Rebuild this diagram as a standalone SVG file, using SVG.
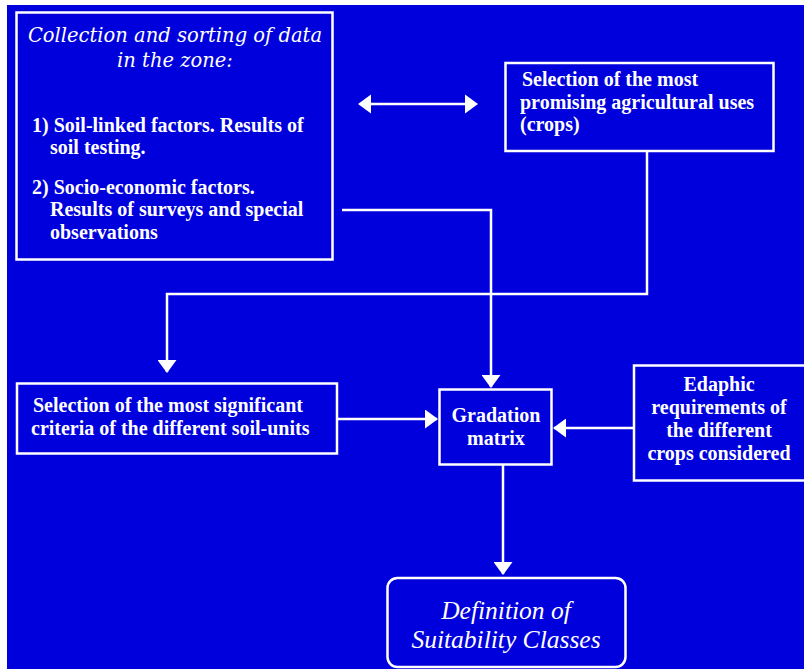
<svg xmlns="http://www.w3.org/2000/svg" width="804" height="669" viewBox="0 0 804 669">
<style>
.box{fill:none;stroke:#fff;stroke-width:2.5}
.ln{fill:none;stroke:#fff;stroke-width:2.5}
.b{font-family:"Liberation Serif","Times New Roman",serif;font-weight:bold;font-size:20px;fill:#fff}
.it{font-family:"DejaVu Serif",serif;font-style:italic;font-size:19.5px;fill:#fff}
.it2{font-family:"Liberation Serif","Times New Roman",serif;font-style:italic;font-size:25.5px;fill:#fff}
.c{text-anchor:middle}
</style>
<defs>
<marker id="ah" markerWidth="13" markerHeight="19" refX="12" refY="9.5" orient="auto" markerUnits="userSpaceOnUse">
<path d="M0,0 L13,9.5 L0,19 Z" fill="#fff"/>
</marker>
</defs>
<rect width="804" height="669" fill="#fff"/>
<rect x="7" y="5" width="797" height="664" fill="#0000DC"/>

<g id="connectors">
<line class="ln" x1="370" y1="104" x2="466" y2="104"/>
<path d="M358,104 L371,94.5 L371,113.5 Z" fill="#fff"/>
<path d="M478,104 L465,94.5 L465,113.5 Z" fill="#fff"/>
<polyline class="ln" points="647,151 647,294 167,294 167,372" marker-end="url(#ah)"/>
<polyline class="ln" points="342,210 491,210 491,387" marker-end="url(#ah)"/>
<line class="ln" x1="338" y1="419" x2="437" y2="419" marker-end="url(#ah)"/>
<line class="ln" x1="633" y1="428" x2="554" y2="428" marker-end="url(#ah)"/>
<line class="ln" x1="503" y1="465" x2="503" y2="574" marker-end="url(#ah)"/>
</g>

<g id="collection">
<rect class="box" x="16.5" y="12.5" width="316" height="247"/>
<text class="it c" x="175" y="42">Collection and sorting of data</text>
<text class="it c" x="175" y="67">in the zone:</text>
<text class="b" x="32" y="132">1) Soil-linked factors. Results of</text>
<text class="b" x="50" y="154">soil testing.</text>
<text class="b" x="32" y="194">2) Socio-economic factors.</text>
<text class="b" x="50" y="216">Results of surveys and special</text>
<text class="b" x="50" y="239">observations</text>
</g>

<g id="crops">
<rect class="box" x="505.5" y="63" width="268" height="88"/>
<text class="b" x="522" y="86">Selection of the most</text>
<text class="b" x="520" y="109">promising agricultural uses</text>
<text class="b" x="520" y="131">(crops)</text>
</g>

<g id="criteria">
<rect class="box" x="17" y="383.5" width="320" height="70"/>
<text class="b" x="33" y="412">Selection of the most significant</text>
<text class="b" x="31" y="435">criteria of the different soil-units</text>
</g>

<g id="gradation">
<rect class="box" x="439.5" y="389.5" width="112" height="75"/>
<text class="b c" x="496" y="422">Gradation</text>
<text class="b c" x="496" y="445">matrix</text>
</g>

<g id="edaphic">
<rect class="box" x="634" y="365.5" width="180" height="115"/>
<text class="b c" x="719" y="391">Edaphic</text>
<text class="b c" x="719" y="414">requirements of</text>
<text class="b c" x="719" y="437">the different</text>
<text class="b c" x="719" y="460">crops considered</text>
</g>

<g id="definition">
<rect class="box" x="387.5" y="578" width="238" height="89" rx="10" ry="10"/>
<text class="it2 c" x="506" y="619">Definition of</text>
<text class="it2 c" x="506" y="648">Suitability Classes</text>
</g>
</svg>
